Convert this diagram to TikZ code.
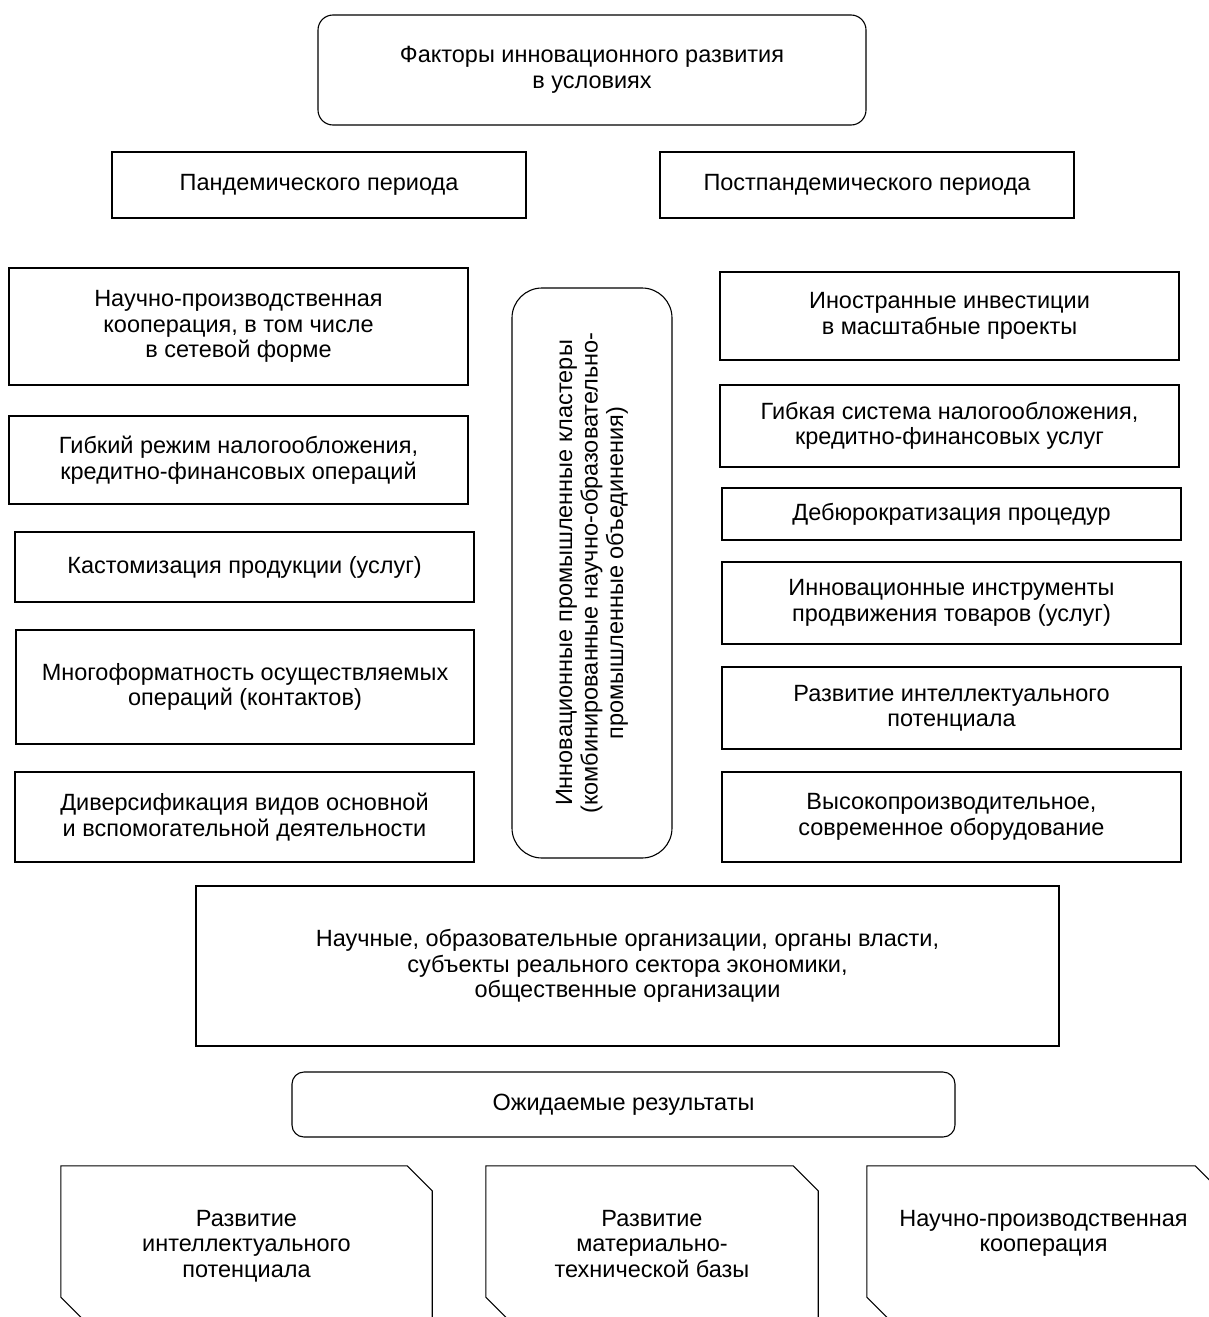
\documentclass[tikz,border=0pt]{standalone}
\usepackage{fontspec}
\setmainfont{Liberation Sans}
\usetikzlibrary{positioning}

\begin{document}
\begin{tikzpicture}[x=1pt,y=-1pt,
    every node/.style={font=\fontsize{23.5}{25.5}\selectfont, align=center, inner sep=0pt},
    box/.style={draw, line width=1.1pt, rectangle},
    rbox/.style={box, rounded corners=15pt},
    res/.style={minimum height=156pt}]
    \useasboundingbox (0,0) rectangle (1209,1317);

    \node[rbox, minimum width=548pt, minimum height=110pt] (factors) at (592,70) {Факторы инновационного развития\\в условиях};
    \node[box, minimum width=414pt, minimum height=66pt] (pand) at (319,185) {Пандемического периода};
    \node[box, minimum width=414pt, minimum height=66pt] (postpand) at (867,185) {Постпандемического периода};

    \node[box, minimum width=459pt, minimum height=117pt] (coop) at (238.5,326.5) {Научно-производственная\\кооперация, в том числе\\в сетевой форме};
    \node[box, minimum width=459pt, minimum height=88pt] (taxmode) at (238.5,460) {Гибкий режим налогообложения,\\кредитно-финансовых операций};
    \node[box, minimum width=459pt, minimum height=70pt] (custom) at (244.5,567) {Кастомизация продукции (услуг)};
    \node[box, minimum width=458pt, minimum height=114pt] (multi) at (245,687) {Многоформатность осуществляемых\\операций (контактов)};
    \node[box, minimum width=459pt, minimum height=90pt] (divers) at (244.5,817) {Диверсификация видов основной\\и вспомогательной деятельности};

    \node[rbox, rotate=90, rounded corners=30pt, minimum width=570pt, minimum height=160pt] (cluster) at (592,573) {Инновационные промышленные кластеры\\(комбинированные научно-образовательно-\\промышленные объединения)};

    \node[box, minimum width=459pt, minimum height=88pt] (invest) at (949.5,316) {Иностранные инвестиции\\в масштабные проекты};
    \node[box, minimum width=459pt, minimum height=82pt] (taxsys) at (949.5,426) {Гибкая система налогообложения,\\кредитно-финансовых услуг};
    \node[box, minimum width=459pt, minimum height=52pt] (debur) at (951.5,514) {Дебюрократизация процедур};
    \node[box, minimum width=459pt, minimum height=82pt] (promo) at (951.5,603) {Инновационные инструменты\\продвижения товаров (услуг)};
    \node[box, minimum width=459pt, minimum height=82pt] (intel) at (951.5,708) {Развитие интеллектуального\\потенциала};
    \node[box, minimum width=459pt, minimum height=90pt] (equip) at (951.5,817) {Высокопроизводительное,\\современное оборудование};

    \node[box, minimum width=863pt, minimum height=160pt] (actors) at (627.5,966) {Научные, образовательные организации, органы власти,\\субъекты реального сектора экономики,\\общественные организации};
    \node[rbox, rounded corners=12pt, minimum width=663pt, minimum height=65pt] (expect) at (623.5,1104.5) {Ожидаемые результаты};

    \node[res, minimum width=371pt] (res1) at (246.5,1244) {};
    \node[res, minimum width=332pt] (res2) at (652,1244) {};
    \node[res, minimum width=353pt] (res3) at (1043.5,1244) {};
    \foreach \r in {res1,res2,res3}
        \draw[line width=1.1pt] (\r.north west) -- ([xshift=-25pt]\r.north east) -- ([yshift=-25pt]\r.north east)
            -- (\r.south east) -- ([xshift=25pt]\r.south west) -- ([yshift=25pt]\r.south west) -- cycle;

    \node[below=44pt of res1.north] (res1txt) {Развитие\\интеллектуального\\потенциала};
    \node[below=44pt of res2.north] (res2txt) {Развитие\\материально-\\технической базы};
    \node[below=44pt of res3.north] (res3txt) {Научно-производственная\\кооперация};
\end{tikzpicture}
\end{document}
